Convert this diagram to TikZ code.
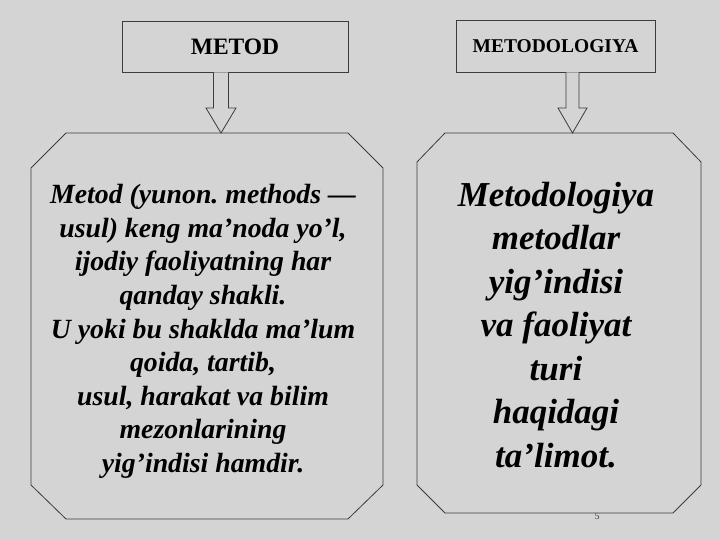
\documentclass[tikz,border=0pt]{standalone}
\usepackage{fontspec}
\setmainfont{Liberation Serif}
\usetikzlibrary{calc}
\definecolor{bggray}{RGB}{212,212,212}
\definecolor{linegray}{RGB}{60,60,60}
\tikzset{
  frame/.style={draw=linegray, line width=0.8pt, fill=bggray},
  titlebox/.style={frame, inner sep=0pt, font=\bfseries},
  holder/.style={inner sep=0pt, outer sep=0pt},
  bodytext/.style={align=center, inner sep=0pt, font=\bfseries\itshape, text=black},
  blockarrow/.style={draw=linegray, line width=0.8pt, fill=bggray, line join=miter}
}
\begin{document}
\frenchspacing
\begin{tikzpicture}[x=1pt,y=1pt]
\useasboundingbox (0,0) rectangle (720,540);
\fill[bggray] (0,0) rectangle (720,540);

% title boxes
\node[titlebox, minimum width=226pt, minimum height=51pt, font=\bfseries\fontsize{23.5}{26}\selectfont] (m) at (235,493.5) {METOD};
\node[titlebox, minimum width=199pt, minimum height=52pt, font=\bfseries\fontsize{19.5}{22}\selectfont] (mg) at (555.5,494) {METODOLOGIYA};

% octagon holders
\node[holder, minimum width=352pt, minimum height=386pt] (L) at (207,214) {};
\node[holder, minimum width=284pt, minimum height=380pt] (R) at (559,217) {};

% page number (behind frame)
\node[inner sep=0pt, text=linegray, font=\fontsize{10}{12}\selectfont] (pg) at (597,24) {5};

% left octagon
\draw[frame] ([xshift=35pt]L.north west) -- ([xshift=-35pt]L.north east)
  -- ([yshift=-35pt]L.north east) -- ([yshift=34pt]L.south east)
  -- ([xshift=-35pt]L.south east) -- ([xshift=35pt]L.south west)
  -- ([yshift=34pt]L.south west) -- ([yshift=-35pt]L.north west) -- cycle;
% right octagon
\draw[frame] ([xshift=28pt]R.north west) -- ([xshift=-28pt]R.north east)
  -- ([yshift=-29pt]R.north east) -- ([yshift=28pt]R.south east)
  -- ([xshift=-28pt]R.south east) -- ([xshift=28pt]R.south west)
  -- ([yshift=28pt]R.south west) -- ([yshift=-29pt]R.north west) -- cycle;

% arrows
\coordinate (a1s) at ([xshift=-14pt]m.south);
\coordinate (a1e) at (a1s |- L.north);
\draw[blockarrow] ([xshift=-7.5pt]a1s) -- ([xshift=-7.5pt,yshift=25pt]a1e)
  -- ([xshift=-15pt,yshift=25pt]a1e) -- (a1e) -- ([xshift=15pt,yshift=25pt]a1e)
  -- ([xshift=7.5pt,yshift=25pt]a1e) -- ([xshift=7.5pt]a1s);
\coordinate (a2s) at ([xshift=17pt]mg.south);
\coordinate (a2e) at (a2s |- R.north);
\draw[blockarrow] ([xshift=-6.5pt]a2s) -- ([xshift=-6.5pt,yshift=25pt]a2e)
  -- ([xshift=-14.5pt,yshift=25pt]a2e) -- (a2e) -- ([xshift=14.5pt,yshift=25pt]a2e)
  -- ([xshift=6.5pt,yshift=25pt]a2e) -- ([xshift=6.5pt]a2s);

% texts
\node[bodytext, font=\bfseries\itshape\fontsize{27.8}{33.6}\selectfont] (lt) at (203,208.5) {Metod (yunon. methods —\\usul) keng ma’noda yo’l,\\ijodiy faoliyatning har\\qanday shakli.\\U yoki bu shaklda ma’lum\\qoida, tartib,\\usul, harakat va bilim\\mezonlarining\\yig’indisi hamdir.};
\node[bodytext, font=\bfseries\itshape\fontsize{35}{43.5}\selectfont] (rt) at (556,215) {Metodologiya\\metodlar\\yig’indisi\\va faoliyat\\turi\\haqidagi\\ta’limot.};
\end{tikzpicture}
\end{document}
